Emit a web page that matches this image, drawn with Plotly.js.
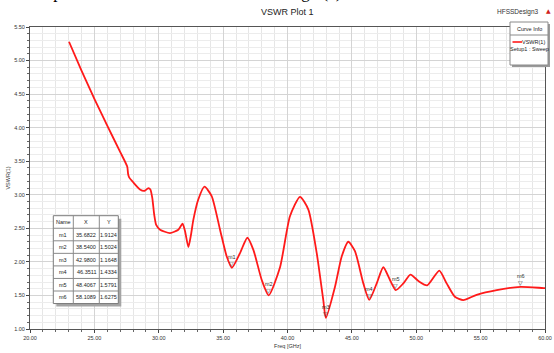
<!DOCTYPE html>
<html><head><meta charset="utf-8">
<script src="https://cdn.plot.ly/plotly-3.0.1.min.js"></script>
<style>html,body{margin:0;padding:0;background:#fff;overflow:hidden}</style>
</head><body><div id="chart" style="width:554px;height:353px"></div>
<script>
// VSWR(1) curve
const freq = [23.03,24.0,25.0,26.0,27.0,27.55,27.62,27.70,28.0,28.54,28.9,29.19,29.35,29.5,29.65,29.8,30.1,30.87,31.52,31.85,32.05,32.3,32.5,32.69,33.07,33.55,34.11,34.76,35.28,35.68,36.31,36.88,37.35,38.0,38.54,39.42,40.19,40.97,41.62,42.27,42.78,42.98,43.69,44.21,44.72,45.24,45.89,46.35,46.93,47.44,47.96,48.41,49.0,49.55,50.2,50.85,51.79,52.36,53.0,53.65,54.69,56.25,58.11,59.87,60.0];
const vswr = [5.28,4.85,4.43,4.03,3.64,3.42,3.31,3.26,3.19,3.08,3.06,3.10,3.08,2.95,2.70,2.55,2.48,2.43,2.48,2.57,2.45,2.22,2.40,2.63,2.93,3.12,2.98,2.48,2.08,1.9124,2.13,2.36,2.18,1.73,1.5024,1.92,2.68,2.97,2.78,2.13,1.43,1.1648,1.63,2.08,2.30,2.16,1.68,1.4334,1.68,1.92,1.73,1.5791,1.68,1.81,1.71,1.65,1.87,1.68,1.48,1.43,1.51,1.58,1.6275,1.61,1.61];
// markers
const mNames = ["m1","m2","m3","m4","m5","m6"];
const mX = [35.6822,38.5400,42.9800,46.3511,48.4067,58.1089];
const mY = [1.9124,1.5024,1.1648,1.4334,1.5791,1.6275];
const tableHeader = ["Name", "X", "Y"];
const traceName = "VSWR(1)";
const setupName = "Setup1 : Sweep";

const F = "Liberation Sans Narrow, Liberation Sans, Arial, sans-serif";
const X0 = 30, X1 = 545, Y0 = 27, Y1 = 329;
const px = v => (v - X0) / (X1 - X0);
const py = v => (Y1 - v) / (Y1 - Y0);

const traces = [
  {x: freq, y: vswr, type: 'scatter', mode: 'lines', name: traceName,
   line: {color: '#ff1a1a', width: 1.8, shape: 'spline', smoothing: 0.6},
   showlegend: false, hoverinfo: 'skip'}
];

const annotations = [
  {text: "VSWR plot for First Iteration is shown in Fig.2(c)", xref: 'paper', yref: 'paper',
   x: px(-2), y: py(4), xanchor: 'left', yanchor: 'bottom', showarrow: false,
   font: {family: 'Liberation Serif, Times New Roman, serif', size: 17, color: '#000'}},
  {text: "VSWR Plot 1", xref: 'paper', yref: 'paper', x: px(287), y: py(12), xanchor: 'center', yanchor: 'middle',
   showarrow: false, font: {family: F, size: 9, color: '#222'}},
  {text: "HFSSDesign3", xref: 'paper', yref: 'paper', x: px(541), y: py(12), xanchor: 'right', yanchor: 'middle',
   showarrow: false, font: {family: F, size: 6.5, color: '#333'}},
  {text: "▲", xref: 'paper', yref: 'paper', x: px(548), y: py(11), xanchor: 'center', yanchor: 'middle',
   showarrow: false, font: {family: 'DejaVu Sans', size: 6, color: '#d02020'}},
  {text: "Curve Info", xref: 'paper', yref: 'paper', x: px(529), y: py(29), xanchor: 'center', yanchor: 'middle',
   showarrow: false, font: {family: F, size: 5.5, color: '#222'}},
  {text: traceName, xref: 'paper', yref: 'paper', x: px(547), y: py(42), xanchor: 'right', yanchor: 'middle',
   showarrow: false, font: {family: F, size: 5.5, color: '#222'}},
  {text: setupName, xref: 'paper', yref: 'paper', x: px(529), y: py(49), xanchor: 'center', yanchor: 'middle',
   showarrow: false, font: {family: F, size: 5.5, color: '#222'}}
];
mNames.forEach((n, i) => {
  annotations.push({text: "▽", x: mX[i], y: mY[i], xref: 'x', yref: 'y', showarrow: false,
    yanchor: 'bottom', yshift: -1, font: {family: 'DejaVu Sans', size: 6, color: '#333'}});
  annotations.push({text: n, x: mX[i], y: mY[i], xref: 'x', yref: 'y', showarrow: false,
    yanchor: 'bottom', yshift: 6, font: {family: F, size: 5.5, color: '#333'}});
});

const shapes = [];
// marker table (built from the marker arrays)
const colEdges = [53.3, 73.3, 99.3, 118.3];
const tTop = 215.7, rowH = 12.55;
const nRows = mNames.length + 1;
const tBottom = tTop + nRows * rowH;
shapes.push({type: 'rect', xref: 'paper', yref: 'paper', x0: px(colEdges[0] + 3), x1: px(colEdges[3] + 3),
  y0: py(tBottom + 3), y1: py(tTop + 3), fillcolor: '#a4a4a4', line: {width: 0}, layer: 'above'});
shapes.push({type: 'rect', xref: 'paper', yref: 'paper', x0: px(colEdges[0]), x1: px(colEdges[3]),
  y0: py(tBottom), y1: py(tTop), fillcolor: '#ffffff', line: {color: '#7a7a7a', width: 1}, layer: 'above'});
for (let r = 1; r < nRows; r++) {
  shapes.push({type: 'line', xref: 'paper', yref: 'paper', x0: px(colEdges[0]), x1: px(colEdges[3]),
    y0: py(tTop + r * rowH), y1: py(tTop + r * rowH), line: {color: '#8a8a8a', width: 1}, layer: 'above'});
}
for (let c = 1; c < 3; c++) {
  shapes.push({type: 'line', xref: 'paper', yref: 'paper', x0: px(colEdges[c]), x1: px(colEdges[c]),
    y0: py(tBottom), y1: py(tTop), line: {color: '#8a8a8a', width: 1}, layer: 'above'});
}
const tableCols = [mNames, mX.map(v => v.toFixed(4)), mY.map(v => v.toFixed(4))];
for (let c = 0; c < 3; c++) {
  const cx = (colEdges[c] + colEdges[c + 1]) / 2;
  const col = [tableHeader[c]].concat(tableCols[c]);
  col.forEach((t, r) => {
    annotations.push({text: t, xref: 'paper', yref: 'paper', x: px(cx), y: py(tTop + (r + 0.5) * rowH),
      xanchor: 'center', yanchor: 'middle', showarrow: false,
      font: {family: F, size: 5.5, color: '#222'}});
  });
}
// legend box
shapes.push(
  {type: 'rect', xref: 'paper', yref: 'paper', x0: px(512), x1: px(550), y0: py(67), y1: py(24),
   fillcolor: '#9a9a9a', line: {width: 0}, layer: 'above'},
  {type: 'rect', xref: 'paper', yref: 'paper', x0: px(510), x1: px(548), y0: py(65), y1: py(22),
   fillcolor: '#ffffff', line: {color: '#8a8a8a', width: 1}, layer: 'above'},
  {type: 'line', xref: 'paper', yref: 'paper', x0: px(510), x1: px(548), y0: py(35), y1: py(35),
   line: {color: '#8a8a8a', width: 1}, layer: 'above'},
  {type: 'line', xref: 'paper', yref: 'paper', x0: px(512.5), x1: px(522), y0: py(42), y1: py(42),
   line: {color: '#ff1a1a', width: 1.6}, layer: 'above'}
);

const layout = {
  width: 554, height: 353,
  margin: {l: 30, r: 9, t: 27, b: 24, pad: 0},
  paper_bgcolor: '#ffffff', plot_bgcolor: '#ffffff',
  showlegend: false,
  xaxis: {range: [20, 60], tickvals: [20,25,30,35,40,45,50,55,60],
    tickformat: '.2f', ticks: 'outside', ticklen: 3, tickcolor: '#444',
    tickfont: {family: F, size: 5.5, color: '#333'},
    showgrid: true, gridcolor: '#d4d4d4', gridwidth: 1,
    minor: {dtick: 1, showgrid: true, gridcolor: '#e6e6e6', ticks: 'outside', ticklen: 2, tickcolor: '#666'},
    showline: true, linecolor: '#555', linewidth: 1, mirror: true, zeroline: false,
    title: {text: 'Freq [GHz]', standoff: 4, font: {family: F, size: 5.5, color: '#333'}}},
  yaxis: {range: [1, 5.5], tickvals: [1,1.5,2,2.5,3,3.5,4,4.5,5,5.5],
    tickformat: '.2f', ticks: 'outside', ticklen: 3, tickcolor: '#444',
    tickfont: {family: F, size: 5.5, color: '#333'},
    showgrid: true, gridcolor: '#d4d4d4', gridwidth: 1,
    minor: {dtick: 0.1, showgrid: true, gridcolor: '#ececec', ticks: 'outside', ticklen: 2, tickcolor: '#666'},
    showline: true, linecolor: '#555', linewidth: 1, mirror: true, zeroline: false,
    title: {text: 'VSWR(1)', standoff: 3, font: {family: F, size: 5.5, color: '#333'}}},
  annotations: annotations,
  shapes: shapes
};

Plotly.newPlot('chart', traces, layout, {displayModeBar: false, staticPlot: true});
</script></body></html>
